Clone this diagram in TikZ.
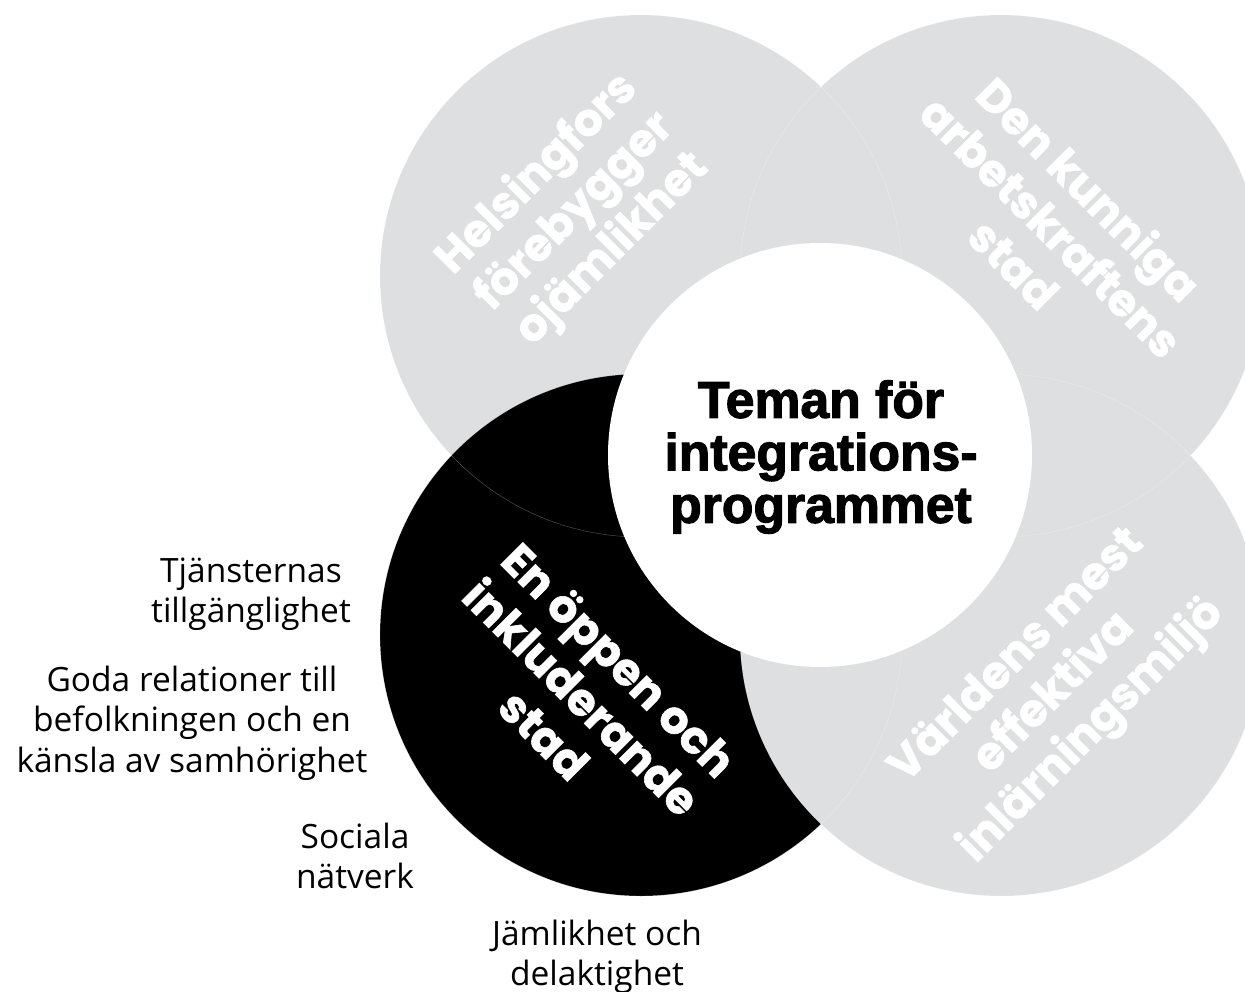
\documentclass[tikz,border=0pt]{standalone}
\usepackage{fontspec}
\usepackage{tikz}
\setmainfont{Open Sans}
\newfontfamily\themefont{Poppins}[BoldFeatures={FakeBold=1.3}]
\newfontfamily\titlefont{Liberation Sans}[BoldFeatures={FakeBold=2.2}]
\definecolor{mist}{RGB}{222,223,225}

\begin{document}
\begin{tikzpicture}[x=1pt, y=-1pt,
    bubble/.style={circle, inner sep=0pt, minimum size=522pt},
    seam/.style={white, opacity=0.35, line width=0.4pt},
    theme/.style={text=white, align=center, font=\themefont\bfseries\fontsize{45}{53}\selectfont},
    aspect/.style={align=center, font=\fontsize{33.5}{40.5}\selectfont}]
    \useasboundingbox (0,0) rectangle (1245,992);
    \clip (0,0) rectangle (1245,992);
    \node[bubble, fill=mist]  (nw) at (641,276) {};
    \node[bubble, fill=mist]  (ne) at (1001,276) {};
    \node[bubble, fill=black] (sw) at (641,635) {};
    \node[bubble, fill=mist]  (se) at (1001,635) {};
    \foreach \c in {nw,ne,sw,se}
      \draw[seam] (\c.center) circle[radius=261pt];
    \node[bubble, fill=white, minimum size=424pt] (hub) at (820,455) {};
    \node[align=center, font=\titlefont\bfseries\fontsize{51.7}{52.5}\selectfont] (title) at (821,457)
      {Teman för\\integrations-\\programmet};
    \node[theme, rotate=45]  (nwtext) at (575,212)  {Helsingfors\\förebygger\\ojämlikhet};
    \node[theme, rotate=-45] (netext) at (1052,226) {Den kunniga\\arbetskraftens\\stad};
    \node[theme, rotate=-45] (swtext) at (582,697)  {En öppen och\\inkluderande\\stad};
    \node[theme, rotate=45]  (setext) at (1055,694) {Världens mest\\effektiva\\inlärningsmiljö};
    \node[aspect] (access)    at (251,594) {Tjänsternas\\tillgänglighet};
    \node[aspect] (relations) at (192,723) {Goda relationer till\\befolkningen och en\\känsla av samhörighet};
    \node[aspect] (networks)  at (355,856) {Sociala\\nätverk};
    \node[aspect] (equality)  at (597,957) {Jämlikhet och\\delaktighet};
\end{tikzpicture}
\end{document}
